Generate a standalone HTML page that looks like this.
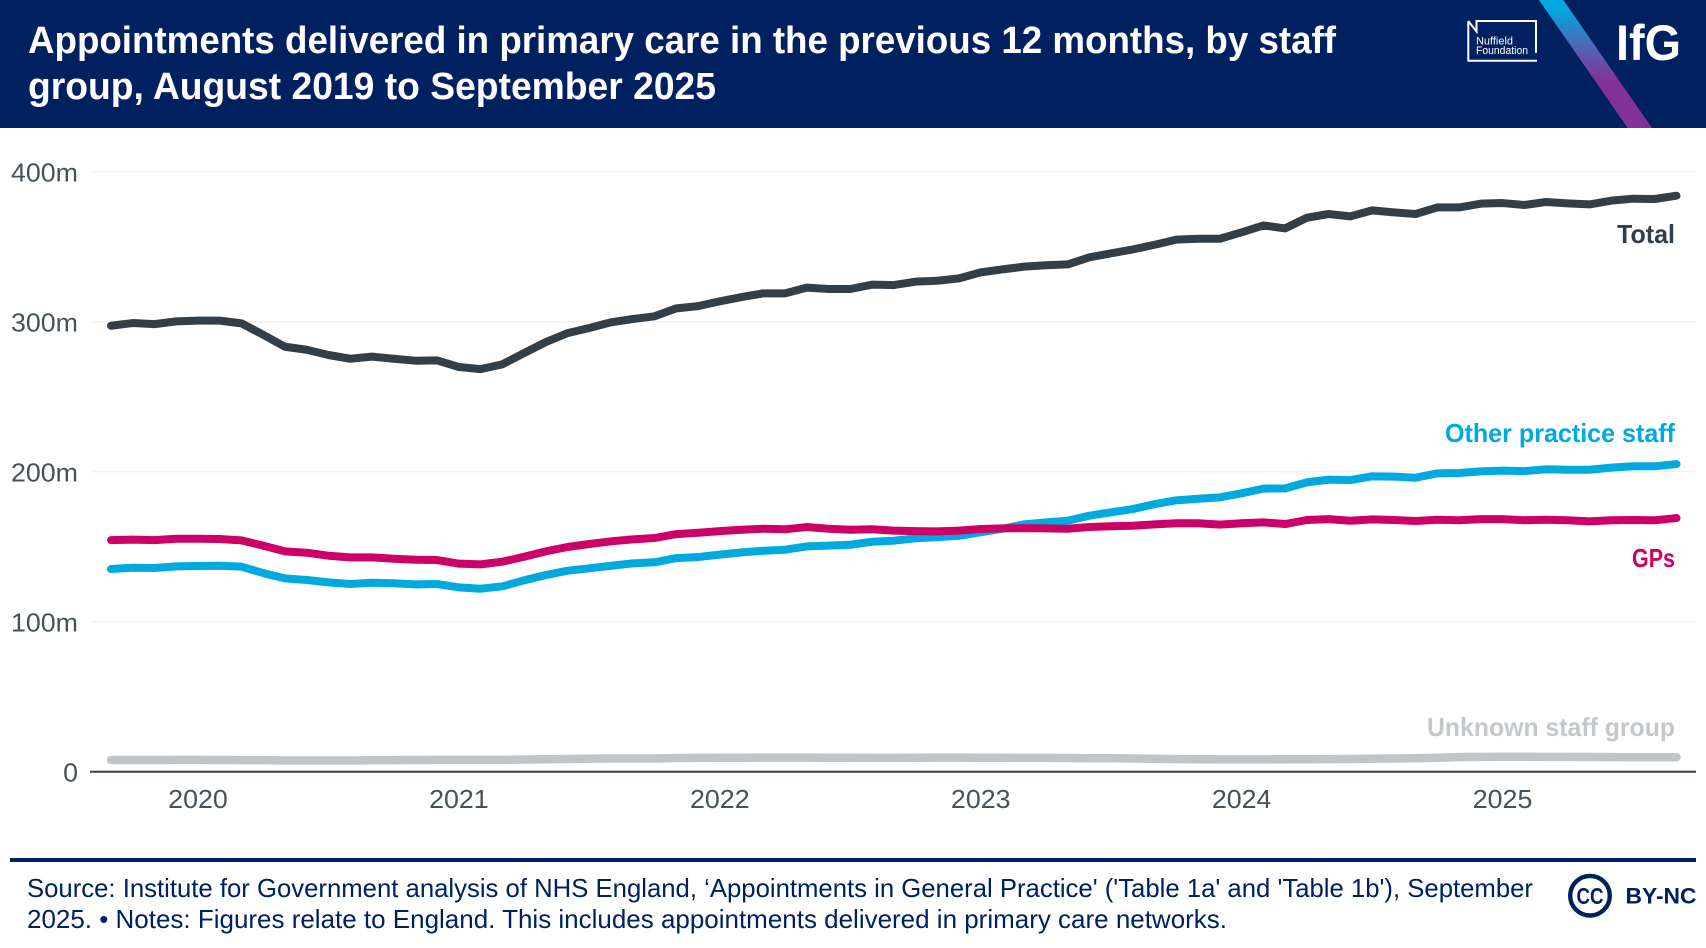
<!DOCTYPE html>
<html lang="en">
<head>
<meta charset="utf-8">
<title>Appointments delivered in primary care</title>
<style>
html,body{margin:0;padding:0;background:#fff;width:1706px;height:948px;overflow:hidden}
svg{display:block}
text{font-family:"Liberation Sans",sans-serif}
.tick{font-size:26px;fill:#465159}
.series-label{font-size:26px;font-weight:700;text-anchor:end}
.foot{font-size:26px;fill:#002060}
</style>
</head>
<body>
<svg id="chart" xmlns="http://www.w3.org/2000/svg" width="1706" height="948" viewBox="0 0 1706 948">
  <defs>
    <linearGradient id="stripe-gradient" gradientUnits="userSpaceOnUse" x1="0" y1="8" x2="0" y2="80">
      <stop offset="0" stop-color="#00a9e0"/>
      <stop offset="0.5" stop-color="#4a6bb8"/>
      <stop offset="1" stop-color="#84329b"/>
    </linearGradient>
  </defs>
  <rect x="0" y="0" width="1706" height="128" fill="#002060"/>
  <text x="28" y="53" font-size="38" font-weight="700" fill="#fff" textLength="1308" lengthAdjust="spacingAndGlyphs">Appointments delivered in primary care in the previous 12 months, by staff</text>
  <text x="28" y="99" font-size="38" font-weight="700" fill="#fff" textLength="688" lengthAdjust="spacingAndGlyphs">group, August 2019 to September 2025</text>

  <g>
    <path d="M1468.3 21V60.7H1537M1536 53V21H1476.5V31.5L1468.3 21" fill="none" stroke="#fff" stroke-width="2"/>
    <text x="1476" y="44.5" font-size="11" fill="#fff" textLength="37" lengthAdjust="spacingAndGlyphs">Nuffield</text>
    <text x="1476" y="54" font-size="11" fill="#fff" textLength="52" lengthAdjust="spacingAndGlyphs">Foundation</text>
  </g>
  <polygon points="1539,0 1563.3,0 1652,128 1627.7,128" fill="url(#stripe-gradient)"/>
  <text x="1616" y="60" font-size="50" font-weight="700" fill="#fff" textLength="65" lengthAdjust="spacingAndGlyphs">IfG</text>

  <g id="grid"></g>
  <g id="y-axis"></g>
  <g id="x-axis"></g>
  <g id="series"></g>

  <text class="series-label" x="1675" y="243" fill="#333f48" textLength="58" lengthAdjust="spacingAndGlyphs">Total</text>
  <text class="series-label" x="1675" y="442" fill="#00a9e0" textLength="230" lengthAdjust="spacingAndGlyphs">Other practice staff</text>
  <text class="series-label" x="1675" y="567" fill="#cc0066" textLength="43" lengthAdjust="spacingAndGlyphs">GPs</text>
  <text class="series-label" x="1675" y="736" fill="#c4c8cb" textLength="248" lengthAdjust="spacingAndGlyphs">Unknown staff group</text>

  <rect x="10" y="858" width="1686" height="4" fill="#002060"/>
  <text class="foot" x="27" y="897" textLength="1506" lengthAdjust="spacingAndGlyphs">Source: Institute for Government analysis of NHS England, ‘Appointments in General Practice' ('Table 1a' and 'Table 1b'), September</text>
  <text class="foot" x="27" y="928" textLength="1200" lengthAdjust="spacingAndGlyphs">2025. • Notes: Figures relate to England. This includes appointments delivered in primary care networks.</text>
  <g>
    <circle cx="1590" cy="895.7" r="19.8" fill="none" stroke="#002060" stroke-width="4.4"/>
    <text x="1590" y="904" font-size="23" font-weight="700" fill="#002060" text-anchor="middle" textLength="27" lengthAdjust="spacingAndGlyphs">CC</text>
    <text x="1625.5" y="903.5" font-size="22" font-weight="700" fill="#002060" textLength="71" lengthAdjust="spacingAndGlyphs">BY-NC</text>
  </g>
</svg>
<script>
const categories = [
  "2019-09","2019-10","2019-11","2019-12",
  "2020-01","2020-02","2020-03","2020-04","2020-05","2020-06","2020-07","2020-08","2020-09","2020-10","2020-11","2020-12",
  "2021-01","2021-02","2021-03","2021-04","2021-05","2021-06","2021-07","2021-08","2021-09","2021-10","2021-11","2021-12",
  "2022-01","2022-02","2022-03","2022-04","2022-05","2022-06","2022-07","2022-08","2022-09","2022-10","2022-11","2022-12",
  "2023-01","2023-02","2023-03","2023-04","2023-05","2023-06","2023-07","2023-08","2023-09","2023-10","2023-11","2023-12",
  "2024-01","2024-02","2024-03","2024-04","2024-05","2024-06","2024-07","2024-08","2024-09","2024-10","2024-11","2024-12",
  "2025-01","2025-02","2025-03","2025-04","2025-05","2025-06","2025-07","2025-08","2025-09"
];
const totalValues = [
  297.3,299.1,298.4,300.2,300.7,300.7,298.9,291.3,283.3,281.3,277.8,275.3,276.7,275.3,274.0,274.2,
  269.8,268.4,271.6,279.1,286.4,292.4,295.8,299.6,301.8,303.6,308.9,310.4,313.6,316.4,318.9,318.9,
  322.7,321.8,321.8,324.7,324.4,326.7,327.3,328.9,332.9,334.9,336.7,337.6,338.2,342.9,345.6,348.2,
  351.3,354.7,355.3,355.3,359.6,364.2,362.2,369.3,371.8,370.2,374.2,372.9,371.8,376.2,376.2,378.7,
  379.1,377.8,379.8,378.9,378.2,380.7,382.0,381.8,384.0
];
const otherStaffValues = [
  135.1,136.0,135.8,136.9,137.1,137.3,136.7,132.4,128.9,127.8,126.2,125.1,126.0,125.6,124.9,125.1,
  122.9,122.0,123.6,127.6,131.1,134.0,135.6,137.3,138.9,139.6,142.4,143.1,144.7,146.2,147.3,148.0,
  150.2,150.7,151.3,153.3,154.0,155.6,156.4,157.3,159.6,162.0,164.9,166.2,167.3,170.7,172.9,175.1,
  178.4,180.9,182.0,182.9,185.6,188.7,188.9,192.9,194.7,194.4,196.9,196.7,196.0,198.9,199.1,200.2,
  200.7,200.4,201.6,201.3,201.3,202.7,203.6,203.6,205.1
];
const gpValues = [
  154.4,154.7,154.4,155.3,155.3,155.1,154.2,150.7,146.9,146.0,144.0,142.9,142.9,142.0,141.3,141.1,
  138.7,138.2,140.0,143.3,146.9,149.8,151.8,153.6,154.9,155.8,158.4,159.3,160.4,161.3,162.0,161.6,
  163.1,162.0,161.3,161.6,160.7,160.4,160.2,160.7,161.8,162.2,162.4,162.2,162.0,163.1,163.6,164.0,
  164.9,165.6,165.6,164.7,165.6,166.2,165.1,167.8,168.4,167.3,168.2,167.8,167.1,168.0,167.6,168.4,
  168.4,167.6,168.0,167.6,166.9,167.6,167.8,167.6,169.1
];
const unknownValues = [
  7.8,7.8,7.8,7.9,7.9,7.8,7.7,7.7,7.5,7.5,7.5,7.5,7.6,7.7,7.8,7.9,
  7.9,7.9,7.9,8.1,8.3,8.5,8.7,8.8,8.8,8.8,9.1,9.2,9.3,9.3,9.4,9.4,
  9.4,9.3,9.3,9.2,9.2,9.3,9.4,9.4,9.3,9.3,9.2,9.2,9.1,9.0,9.0,8.8,
  8.6,8.4,8.3,8.2,8.2,8.2,8.3,8.3,8.4,8.5,8.7,8.8,9.0,9.3,9.7,9.9,
  10.0,10.0,9.9,9.9,9.8,9.7,9.6,9.6,9.6
];
const yTickValues = [0, 100, 200, 300, 400];
const yTickLabels = ["0", "100m", "200m", "300m", "400m"];
const xTickCategories = ["2020-01", "2021-01", "2022-01", "2023-01", "2024-01", "2025-01"];
const xTickLabels = ["2020", "2021", "2022", "2023", "2024", "2025"];

const SVG_NS = "http://www.w3.org/2000/svg";
function xScale(i) { return 111 + (1676.5 - 111) * i / (categories.length - 1); }
function yScale(v) { return 771.7 - 1.5 * v; }
function make(tag, attrs, parent) {
  const el = document.createElementNS(SVG_NS, tag);
  for (const k in attrs) el.setAttribute(k, attrs[k]);
  parent.appendChild(el);
  return el;
}

const gridGroup = document.getElementById("grid");
const yGroup = document.getElementById("y-axis");
const xGroup = document.getElementById("x-axis");
const seriesGroup = document.getElementById("series");

yTickValues.forEach(function (v, i) {
  if (v !== 0) {
    const line = make("line", {x1: 91.5, x2: 1696, y1: yScale(v), y2: yScale(v), stroke: "#f2f2f2", "stroke-width": 1.6}, gridGroup);
    
    
  }
  const label = make("text", {class: "tick", x: 78, y: yScale(v) + 9.7, "text-anchor": "end"}, yGroup);
  label.textContent = yTickLabels[i];
  
  
  label.setAttribute("textLength", (label.getComputedTextLength() * 1.03).toFixed(1));
  label.setAttribute("lengthAdjust", "spacingAndGlyphs");
});

const axisLine = make("line", {x1: 90, x2: 1696, y1: yScale(0), y2: yScale(0), stroke: "#333f48", "stroke-width": 2}, xGroup);



xTickCategories.forEach(function (c, i) {
  const label = make("text", {class: "tick", x: xScale(categories.indexOf(c)), y: 808, "text-anchor": "middle"}, xGroup);
  label.textContent = xTickLabels[i];
  
  
  label.setAttribute("textLength", (label.getComputedTextLength() * 1.03).toFixed(1));
  label.setAttribute("lengthAdjust", "spacingAndGlyphs");
});

function linePath(values) {
  return values.map(function (v, i) {
    return (i ? "L" : "M") + xScale(i).toFixed(2) + " " + yScale(v).toFixed(2);
  }).join("");
}

const unknownLine = make("path", {d: linePath(unknownValues), fill: "none", stroke: "#c1c5c8", "stroke-width": 8.5, "stroke-linecap": "round", "stroke-linejoin": "round"}, seriesGroup);



const totalLine = make("path", {d: linePath(totalValues), fill: "none", stroke: "#333f48", "stroke-width": 8, "stroke-linecap": "round", "stroke-linejoin": "round"}, seriesGroup);



const otherLine = make("path", {d: linePath(otherStaffValues), fill: "none", stroke: "#00a9e0", "stroke-width": 8, "stroke-linecap": "round", "stroke-linejoin": "round"}, seriesGroup);



const gpLine = make("path", {d: linePath(gpValues), fill: "none", stroke: "#cc0066", "stroke-width": 8, "stroke-linecap": "round", "stroke-linejoin": "round"}, seriesGroup);


</script>
</body>
</html>
